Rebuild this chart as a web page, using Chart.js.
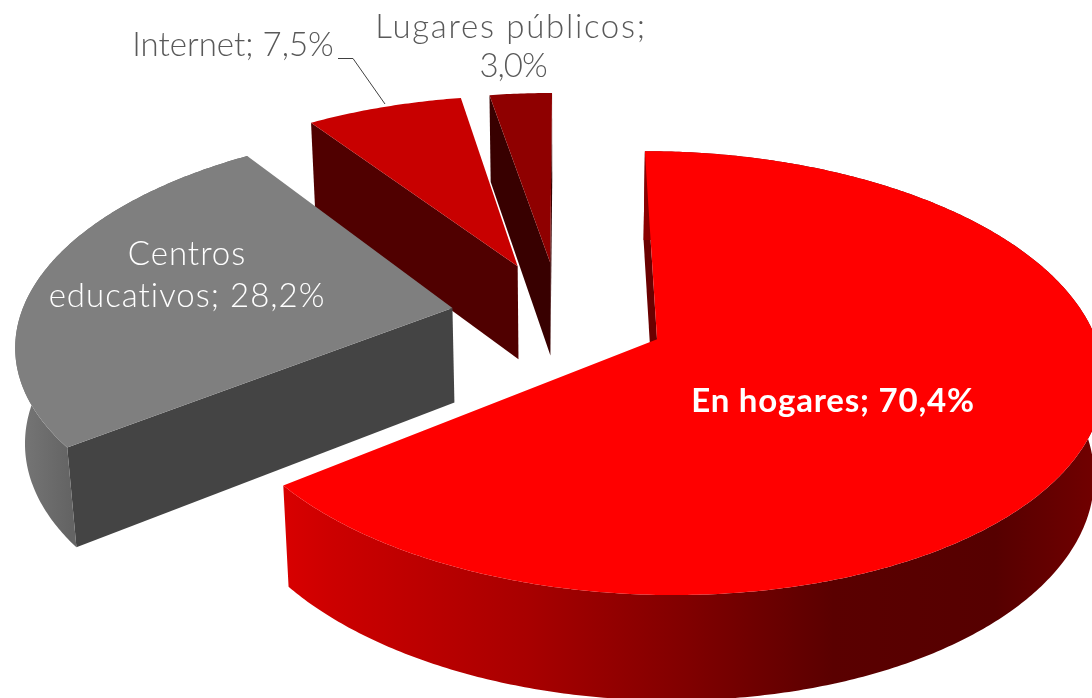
<!DOCTYPE html>
<html>
<head>
<meta charset="utf-8">
<style>
html, body { margin: 0; padding: 0; background: #fff; }
#wrap { width: 1092px; height: 698px; }
</style>
<script src="https://cdn.jsdelivr.net/npm/chart.js@4/dist/chart.umd.js"></script>
</head>
<body>
<div id="wrap"><canvas id="chart" width="1092" height="698"></canvas></div>
<script>
const categories = ['En hogares', 'Centros educativos', 'Internet', 'Lugares públicos']
const values = [70.4, 28.2, 7.5, 3.0]
const labelLines = [['En hogares; 70,4%'], ['Centros', 'educativos; 28,2%'], ['Internet; 7,5%'], ['Lugares públicos;', '3,0%']]

const topColors = ['#ff0000', '#7f7f7f', '#c80000', '#8f0000']
const edgeColors = ['#6a0000', '#444444', '#500000', '#380000']
const explode = [107, 109, 115, 115]
const drawOrder = [3, 2, 1, 0]

// camera, fitted on the reference
const TILT = 0.4855
const PERSPECTIVE = 0.15
const VP_X = 565
const SHIFT_X = -5.5
const HORIZON_Y = 316
const DEPTH = 95
const VP_DEPTH = 5400

const toScreen = (R, px, py) => {
    const w = 1 / (1 - PERSPECTIVE * py / R)
    const x = VP_X + (SHIFT_X + px) * w
    const y = HORIZON_Y + TILT * py * w
    const depth = DEPTH * (0.45 + 0.55 * w)
    return { x, y, bx: VP_X + (x - VP_X) * (1 - depth / VP_DEPTH), by: y + depth }
}

const project = (arc, angle) => {
    const R = arc.outerRadius
    const mid = (arc.startAngle + arc.endAngle) / 2
    const e = arc.options.offset
    return toScreen(R, R * Math.cos(angle) + e * Math.cos(mid), R * Math.sin(angle) + e * Math.sin(mid))
}

const apex = arc => {
    const R = arc.outerRadius
    const mid = (arc.startAngle + arc.endAngle) / 2
    const e = arc.options.offset
    return toScreen(R, e * Math.cos(mid), e * Math.sin(mid))
}

const rim = arc => {
    const steps = Math.ceil((arc.endAngle - arc.startAngle) / 0.01)
    const points = []
    for(let i = 0; i <= steps; i++) {
        points.push(project(arc, arc.startAngle + (arc.endAngle - arc.startAngle) * i / steps))
    }
    return points
}

const wallGradient = (ctx, index) => {
    if(index === 0) {
        const g = ctx.createLinearGradient(285, 0, 1092, 0)
        g.addColorStop(0, '#d80000')
        g.addColorStop(0.06, '#cc0000')
        g.addColorStop(0.3, '#a80000')
        g.addColorStop(0.5, '#800000')
        g.addColorStop(0.68, '#5a0000')
        g.addColorStop(0.88, '#560000')
        g.addColorStop(1, '#700000')
        return g
    }
    const g = ctx.createLinearGradient(15, 0, 70, 0)
    g.addColorStop(0, '#787878')
    g.addColorStop(1, '#646464')
    return g
}

const fillPath = (ctx, points, style) => {
    ctx.beginPath()
    points.forEach((p, i) => i ? ctx.lineTo(p[0], p[1]) : ctx.moveTo(p[0], p[1]))
    ctx.closePath()
    ctx.fillStyle = style
    ctx.fill()
}

const drawSlice = (ctx, arc, index) => {
    const points = rim(arc)
    const a = apex(arc)
    const first = points[0]
    const last = points[points.length - 1]

    // only the cut faces turned to the viewer
    if(first.x < a.x) {
        fillPath(ctx, [[a.x, a.y], [first.x, first.y], [first.bx, first.by], [a.bx, a.by]], edgeColors[index])
    }
    if(last.x > a.x) {
        fillPath(ctx, [[a.x, a.y], [last.x, last.y], [last.bx, last.by], [a.bx, a.by]], edgeColors[index])
    }

    if(index < 2) {
        const wall = points.map(p => [p.x, p.y]).concat(points.slice().reverse().map(p => [p.bx, p.by]))
        fillPath(ctx, wall, wallGradient(ctx, index))
    }

    fillPath(ctx, [[a.x, a.y]].concat(points.map(p => [p.x, p.y])), topColors[index])
}

const drawLine = (ctx, text, x, y, font, color, spacing) => {
    ctx.font = font
    ctx.letterSpacing = `${spacing}px`
    ctx.fillStyle = color
    ctx.textAlign = 'center'
    ctx.textBaseline = 'middle'
    ctx.fillText(text, x, y)
}

const pie3d = {
    id: 'pie3d',
    beforeDatasetDraw(chart) {
        const ctx = chart.ctx
        const arcs = chart.getDatasetMeta(0).data
        ctx.save()
        drawOrder.forEach(i => drawSlice(ctx, arcs[i], i))

        ctx.strokeStyle = '#404040'
        ctx.lineWidth = 1
        ctx.beginPath()
        ctx.moveTo(338, 58.5)
        ctx.lineTo(353, 58.5)
        ctx.lineTo(385, 104)
        ctx.stroke()

        const light = '300 33px Lato, "Open Sans", sans-serif'
        const bold = 'bold 33px Lato, "Open Sans", sans-serif'
        drawLine(ctx, labelLines[0][0], 833, 401, bold, '#ffffff', 0.8)
        drawLine(ctx, labelLines[1][0], 187, 254, light, '#ffffff', 1)
        drawLine(ctx, labelLines[1][1], 187, 296, light, '#ffffff', 1)
        drawLine(ctx, labelLines[2][0], 233, 45, light, '#595959', 0)
        drawLine(ctx, labelLines[3][0], 511, 27, light, '#595959', 1.7)
        drawLine(ctx, labelLines[3][1], 513, 66, light, '#595959', -1)
        ctx.restore()
        return false
    }
}

new Chart('chart', {
    type: 'pie',
    data: {
        labels: categories,
        datasets: [{
            data: values,
            backgroundColor: topColors,
            borderWidth: 0,
            offset: explode
        }]
    },
    options: {
        responsive: false,
        animation: false,
        radius: 432,
        layout: { padding: 0 },
        plugins: { legend: { display: false }, tooltip: { enabled: false } }
    },
    plugins: [pie3d]
})
</script>
</body>
</html>
